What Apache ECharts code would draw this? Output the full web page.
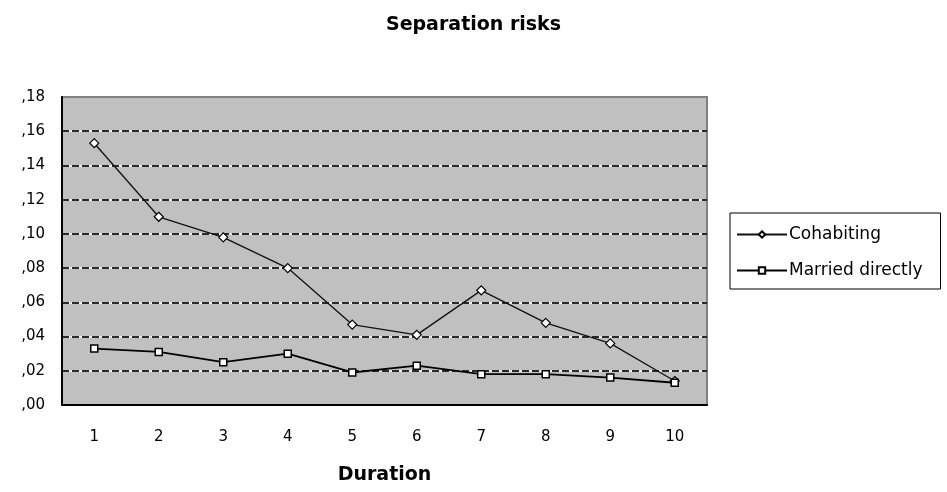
<!DOCTYPE html>
<html>
<head>
<meta charset="utf-8">
<script src="https://cdn.jsdelivr.net/npm/echarts@6/dist/echarts.min.js"></script>
<style>
  html, body { margin: 0; padding: 0; background: #fff; }
  #chart { width: 947px; height: 492px; }
</style>
</head>
<body>
<div id="chart"></div>
<script>
  // data
  var durations = ['1', '2', '3', '4', '5', '6', '7', '8', '9', '10'];
  var cohabiting = [0.153, 0.110, 0.098, 0.080, 0.047, 0.041, 0.067, 0.048, 0.036, 0.014];
  var marriedDirectly = [0.033, 0.031, 0.025, 0.030, 0.019, 0.023, 0.018, 0.018, 0.016, 0.013];

  var chart = echarts.init(document.getElementById('chart'));

  // ",18" style labels
  function commaLabel(v) {
    return v.toFixed(2).replace(/^0\./, ',');
  }

  var font = '"DejaVu Sans", Verdana, sans-serif';

  chart.setOption({
    animation: false,
    backgroundColor: '#fff',
    title: {
      text: 'Separation risks',
      left: 'center',
      top: 11,
      textStyle: { fontFamily: font, fontWeight: 'bold', fontSize: 19, color: '#000' }
    },
    legend: {
      orient: 'vertical',
      left: 730,
      top: 213,
      padding: [13, 18, 10, 6],
      itemGap: 19,
      itemWidth: 50,
      itemHeight: 8,
      borderColor: '#000',
      borderWidth: 1,
      textStyle: { fontFamily: font, fontSize: 17, color: '#000', padding: [0, 0, 0, -3] },
      data: ['Cohabiting', 'Married directly']
    },
    grid: {
      left: 62,
      right: 240,
      top: 97,
      bottom: 87,
      show: true,
      backgroundColor: '#c0c0c0',
      borderColor: '#808080',
      borderWidth: 2
    },
    xAxis: {
      type: 'category',
      data: durations,
      boundaryGap: true,
      name: 'Duration',
      nameLocation: 'middle',
      nameGap: 61,
      nameTextStyle: { fontFamily: font, fontWeight: 'bold', fontSize: 19, color: '#000' },
      axisLine: { lineStyle: { color: '#000', width: 2 } },
      axisTick: { inside: true, length: 4, lineStyle: { color: '#000' } },
      axisLabel: { margin: 25, fontFamily: font, fontSize: 15, color: '#000' }
    },
    yAxis: [
      {
        // light solid lines beneath the dashes
        type: 'value',
        position: 'left',
        min: 0,
        max: 0.18,
        interval: 0.02,
        z: 1,
        axisLine: { show: false },
        axisTick: { show: false },
        axisLabel: { show: false },
        splitLine: { showMinLine: false, showMaxLine: false, lineStyle: { color: '#ececec', width: 2 } }
      },
      {
        type: 'value',
        position: 'left',
        min: 0,
        max: 0.18,
        interval: 0.02,
        z: 2,
        axisLine: { show: true, lineStyle: { color: '#000', width: 2 } },
        axisTick: { show: false },
        axisLabel: {
          margin: 17,
          fontFamily: font,
          fontSize: 15,
          color: '#000',
          formatter: commaLabel
        },
        splitLine: { showMinLine: false, showMaxLine: false, lineStyle: { color: '#2a2a2a', width: 2, type: [7, 3] } }
      }
    ],
    series: [
      {
        name: 'Cohabiting',
        type: 'line',
        yAxisIndex: 1,
        data: cohabiting,
        symbol: 'diamond',
        symbolSize: 9,
        z: 5,
        lineStyle: { color: '#111', width: 1.3 },
        itemStyle: { color: '#fff', borderColor: '#000', borderWidth: 1.2 }
      },
      {
        name: 'Married directly',
        type: 'line',
        yAxisIndex: 1,
        data: marriedDirectly,
        symbol: 'rect',
        symbolSize: 7,
        z: 5,
        lineStyle: { color: '#000', width: 1.8 },
        itemStyle: { color: '#fff', borderColor: '#000', borderWidth: 1.5 }
      }
    ]
  });
</script>
</body>
</html>
